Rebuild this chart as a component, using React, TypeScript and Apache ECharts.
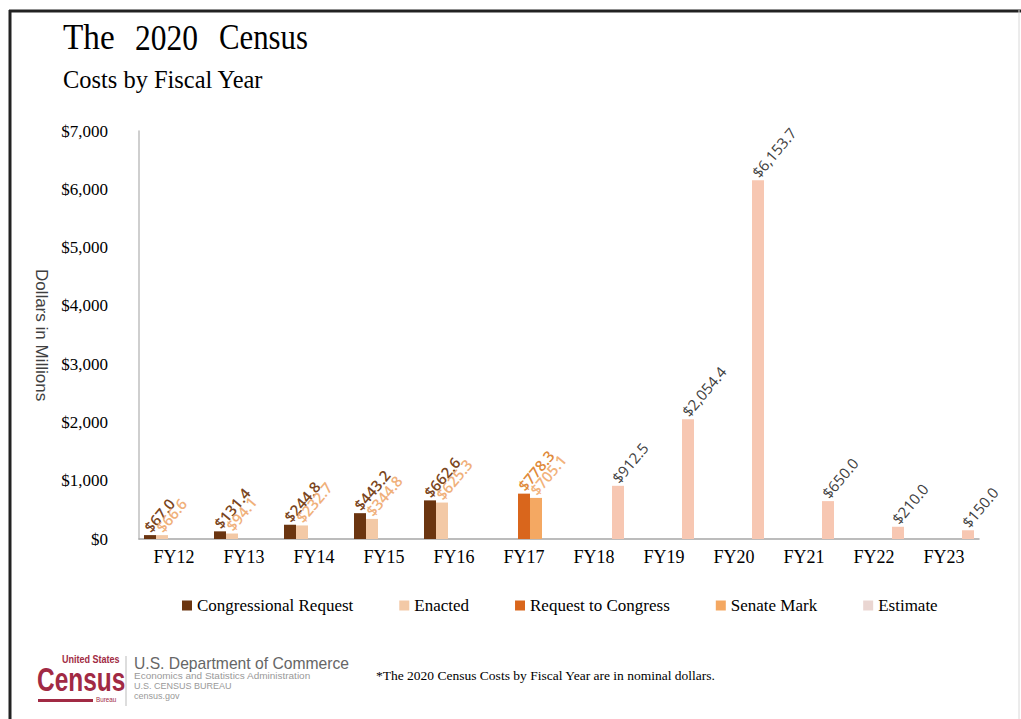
import React, { useEffect, useRef } from "react";
import * as echarts from "echarts";

const categories = ["FY12", "FY13", "FY14", "FY15", "FY16", "FY17", "FY18", "FY19", "FY20", "FY21", "FY22", "FY23"];
const congressionalRequest = [67.0, 131.4, 244.8, 443.2, 662.6, null, null, null, null, null, null, null];
const enacted = [66.6, 94.1, 232.7, 344.8, 625.3, null, null, null, null, null, null, null];
const requestToCongress = [null, null, null, null, null, 778.3, null, null, null, null, null, null];
const senateMark = [null, null, null, null, null, 705.1, null, null, null, null, null, null];
const estimate = [null, null, null, null, null, null, 912.5, 2054.4, 6153.7, 650.0, 210.0, 150.0];
const yTicks = [0, 1000, 2000, 3000, 4000, 5000, 6000, 7000];

const fmtMoney = (v: number) =>
  "$" + v.toLocaleString("en-US", { minimumFractionDigits: 1, maximumFractionDigits: 1 });

const serif = "'Liberation Serif', 'Times New Roman', serif";
const sans = "'Liberation Sans', Arial, sans-serif";
const labelFont = "'Open Sans', 'Noto Sans', sans-serif";

function makeSeries(name: string, data: (number | null)[], color: string, labelColor: string, weight: number) {
  return {
    name,
    type: "bar",
    data,
    barWidth: 12,
    barGap: "0%",
    itemStyle: { color },
    label: {
      show: true,
      position: "top",
      distance: 9,
      rotate: 50,
      align: "left",
      verticalAlign: "middle",
      offset: [-5, 0],
      color: labelColor,
      fontFamily: labelFont,
      fontSize: 15,
      fontWeight: weight,
      formatter: (p: any) => fmtMoney(p.value),
    },
  };
}

export default function App() {
  const ref = useRef<HTMLDivElement>(null);
  useEffect(() => {
    if (!ref.current) return;
    const chart = echarts.init(ref.current, null, { renderer: "svg" });
    const option: any = {
      animation: false,
      backgroundColor: "#ffffff",
      grid: { left: 139, right: 42, top: 131, bottom: 180, containLabel: false },
      xAxis: {
        type: "category",
        data: categories,
        axisLine: { lineStyle: { color: "#a6a6a6", width: 1.5 } },
        axisTick: { show: false },
        axisLabel: { color: "#000", fontFamily: serif, fontSize: 18, margin: 9 },
      },
      yAxis: {
        type: "value",
        min: yTicks[0],
        max: yTicks[yTicks.length - 1],
        interval: 1000,
        name: "Dollars in Millions",
        nameLocation: "middle",
        nameRotate: -90,
        nameGap: 83,
        nameTextStyle: { color: "#404040", fontFamily: sans, fontSize: 17 },
        axisLine: { show: true, lineStyle: { color: "#bfbfbf", width: 1.5 } },
        axisTick: { show: false },
        splitLine: { show: false },
        axisLabel: {
          color: "#000",
          fontFamily: serif,
          fontSize: 17,
          margin: 31,
          formatter: (v: number) => "$" + v.toLocaleString("en-US"),
        },
      },
      legend: {
        left: 177,
        top: 592,
        itemWidth: 10,
        itemHeight: 10,
        itemGap: 46,
        icon: "rect",
        textStyle: { color: "#000", fontFamily: serif, fontSize: 17 },
        data: [
          { name: "Congressional Request", itemStyle: { color: "#6b3510" } },
          { name: "Enacted", itemStyle: { color: "#f3c9a6" } },
          { name: "Request to Congress", itemStyle: { color: "#d9661c" } },
          { name: "Senate Mark", itemStyle: { color: "#f4a862" } },
          { name: "Estimate", itemStyle: { color: "#ead6d2" } },
        ],
      },
      series: [
        makeSeries("Congressional Request", congressionalRequest, "#6b3510", "#7a4520", 600),
        makeSeries("Enacted", enacted, "#f3c9a6", "#f0b07a", 600),
        makeSeries("Request to Congress", requestToCongress, "#d9661c", "#e08a3a", 600),
        makeSeries("Senate Mark", senateMark, "#f4a862", "#f2b27a", 600),
        makeSeries("Estimate", estimate, "#f7c7b2", "#404040", 400),
      ],
      graphic: [
        { type: "line", shape: { x1: 9, y1: 11, x2: 1021, y2: 11 }, style: { stroke: "#222", lineWidth: 3 } },
        { type: "line", shape: { x1: 10, y1: 10, x2: 10, y2: 719 }, style: { stroke: "#222", lineWidth: 3 } },
        { type: "line", shape: { x1: 1019, y1: 10, x2: 1019, y2: 719 }, style: { stroke: "#d8d8d8", lineWidth: 1 } },
        { type: "text", x: 63, y: 20, scaleX: 0.95, style: { text: "The", fill: "#000", font: `35px ${serif}` } },
        { type: "text", x: 135, y: 20, scaleX: 0.9, style: { text: "2020", fill: "#000", font: `35px ${serif}` } },
        { type: "text", x: 219, y: 20, scaleX: 0.88, style: { text: "Census", fill: "#000", font: `35px ${serif}` } },
        {
          type: "text", x: 63, y: 66, scaleX: 0.94,
          style: { text: "Costs by Fiscal Year", fill: "#000", font: `26px ${serif}` },
        },
        // Census logo
        {
          type: "text", x: 62, y: 654, scaleX: 0.82,
          style: { text: "United States", fill: "#a12a44", font: `bold 11px ${sans}` },
        },
        {
          type: "text", x: 37, y: 662, scaleX: 0.72,
          style: { text: "Census", fill: "#a12a44", font: `bold 34px ${sans}` },
        },
        { type: "rect", shape: { x: 38, y: 699, width: 55, height: 3 }, style: { fill: "#a12a44" } },
        {
          type: "text", x: 96, y: 696, scaleX: 0.9,
          style: { text: "Bureau", fill: "#a12a44", font: `7px ${sans}` },
        },
        { type: "line", shape: { x1: 126, y1: 656, x2: 126, y2: 706 }, style: { stroke: "#bbb", lineWidth: 1 } },
        {
          type: "text", x: 134, y: 655, scaleX: 0.98,
          style: { text: "U.S. Department of Commerce", fill: "#666", font: `16px ${sans}` },
        },
        {
          type: "text", x: 134, y: 671, scaleX: 1.05,
          style: { text: "Economics and Statistics Administration", fill: "#999", font: `9.5px ${sans}` },
        },
        {
          type: "text", x: 134, y: 681, scaleX: 1.0,
          style: { text: "U.S. CENSUS BUREAU", fill: "#999", font: `9px ${sans}` },
        },
        {
          type: "text", x: 134, y: 691, scaleX: 1.0,
          style: { text: "census.gov", fill: "#999", font: `9px ${sans}` },
        },
        {
          type: "text", left: 376, top: 668,
          style: { text: "*The 2020 Census Costs by Fiscal Year are in nominal dollars.", fill: "#000", font: `13.5px ${serif}` },
        },
      ],
    };
    chart.setOption(option);
    return () => chart.dispose();
  }, []);
  return (
    <div
      ref={ref}
      style={{ position: "fixed", left: 0, top: 0, width: 1021, height: 719, background: "#fff" }}
    />
  );
}
